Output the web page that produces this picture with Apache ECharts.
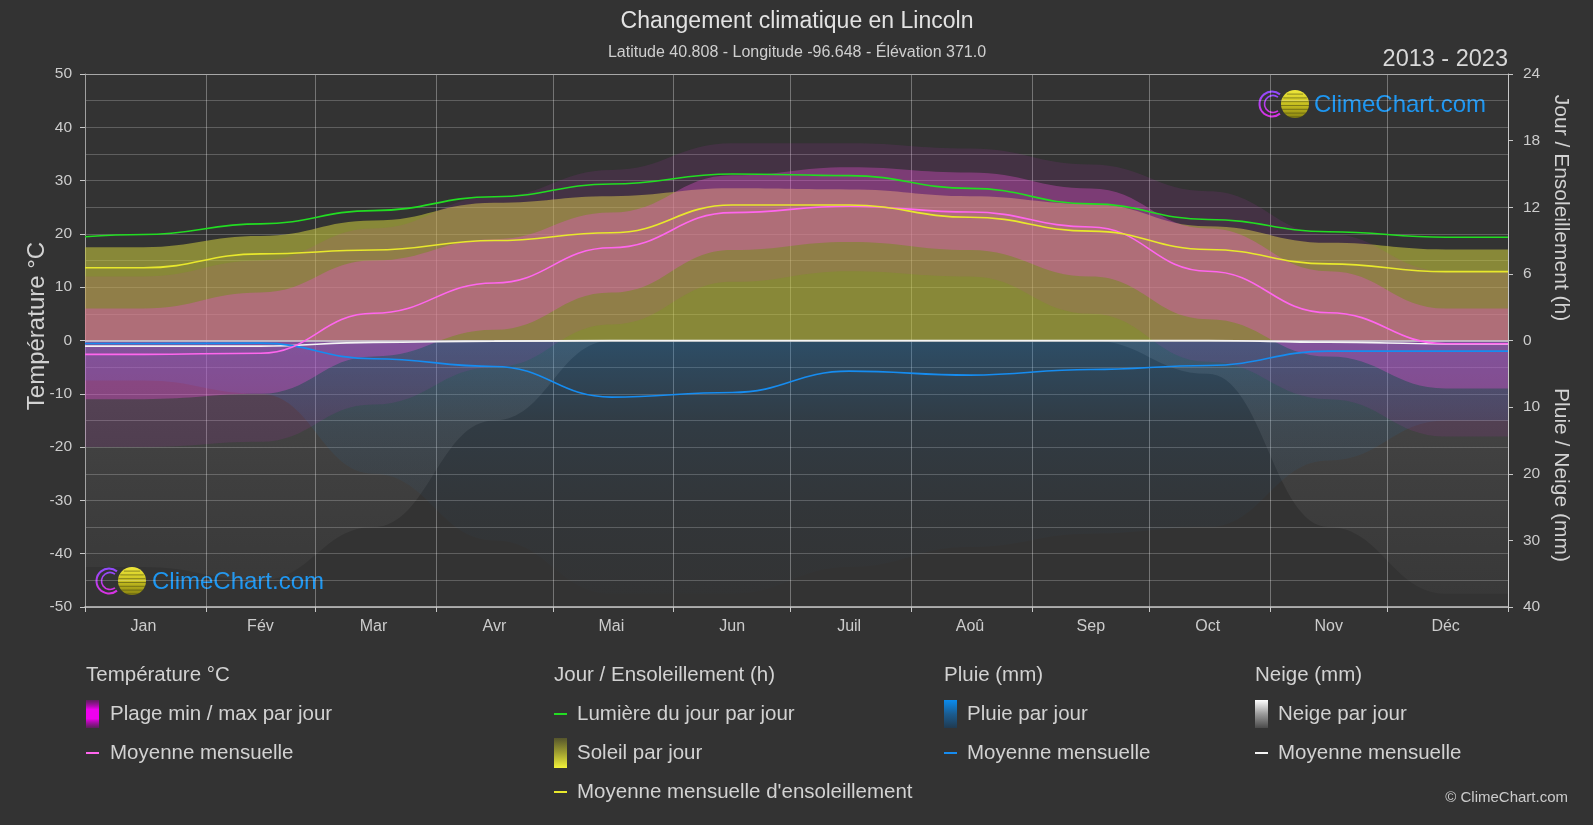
<!DOCTYPE html>
<html><head><meta charset="utf-8">
<script src="https://cdn.jsdelivr.net/npm/echarts/dist/echarts.min.js"></script>
<style>html,body{margin:0;padding:0;background:#333333;}#c{width:1593px;height:825px;}</style>
</head><body><div id="c"></div>
<script>
// ---- data ----
const months = ['Jan','Fév','Mar','Avr','Mai','Jun','Juil','Aoû','Sep','Oct','Nov','Déc'];
const monthDays = [31,28,31,30,31,30,31,31,30,31,30,31];
const tempMean = [-2.6, -2.4, 5.1, 10.8, 17.4, 24.0, 25.2, 24.1, 21.3, 13.0, 5.2, -0.6];
const tempMaxInner = [6, 9, 15, 19, 24, 31, 32.5, 31.5, 28.5, 21, 13, 6];
const tempMinInner = [-11, -10, -3, 2, 9, 17, 18.5, 17, 12, 4, -3, -9];
const tempMaxOuter = [12, 15, 21, 27, 32, 37, 37, 36, 33, 28, 20, 13];
const tempMinOuter = [-20, -19, -12, -5, 3, 11, 13, 12, 5, -4, -11, -18];
const daylight = [9.55, 10.5, 11.7, 12.95, 14.1, 15.0, 14.85, 13.7, 12.3, 10.9, 9.8, 9.3];
const daylightEdges = [9.35, 9.3];
const sunMean = [6.55, 7.8, 8.15, 9.0, 9.7, 12.2, 12.2, 11.1, 9.85, 8.2, 6.9, 6.2];
const sunTop = [8.4, 9.4, 10.8, 12.4, 13.0, 13.7, 13.6, 13.0, 12.3, 10.3, 8.8, 8.2];
const rainMean = [0.45, 0.4, 2.75, 3.9, 8.5, 7.8, 4.6, 5.2, 4.35, 3.75, 1.6, 1.6];
const rainTop = [6, 8, 20, 30, 38, 38, 34, 31, 29, 28, 18, 12];
const snowMean = [0.85, 0.85, 0.28, 0.1, 0, 0, 0, 0, 0, 0, 0.25, 0.5];
const snowTop = [34, 36, 28, 12, 0, 0, 0, 0, 0, 5, 28, 38];
const tempTicks = {min: -50, max: 50, interval: 10};
const rightTicks = {min: -40, max: 40, interval: 10};

// ---- axis helpers ----
const monthStarts = [];
let acc = 0;
monthDays.forEach(d => { monthStarts.push(acc); acc += d; });
monthStarts.push(acc);
const totalDays = acc;
const mids = monthDays.map((d, i) => monthStarts[i] + Math.floor(d / 2));
const startSet = new Set(monthStarts);
const midMap = new Map(mids.map((m, i) => [m, months[i]]));
const dayCats = [];
for (let i = 0; i <= totalDays; i++) dayCats.push(String(i));

const sunToAxis = h => h * 40 / 24;
const mmToAxis = mm => -mm;

function pts(arr, conv, edges) {
  const c = conv || (v => v);
  const first = edges ? edges[0] : arr[0];
  const last = edges ? edges[1] : arr[arr.length - 1];
  const out = [[0, c(first)]];
  arr.forEach((v, i) => out.push([mids[i], c(v)]));
  out.push([totalDays, c(last)]);
  return out;
}
function diff(a, b) { return a.map((v, i) => v - b[i]); }

const FONT = "'Liberation Sans', Arial, Helvetica, sans-serif";
const TXT = '#d2d2d2';

function lineSeries(data, yAxisIndex, color, z) {
  return {type: 'line', data, yAxisIndex, smooth: 0.45, smoothMonotone: 'x', symbol: 'none',
    lineStyle: {color, width: 1.6}, z: z || 5, silent: true};
}
function areaSeries(data, yAxisIndex, color, stack, z) {
  const s = {type: 'line', data, yAxisIndex, smooth: 0.45, smoothMonotone: 'x', symbol: 'none',
    lineStyle: {opacity: 0, width: 0}, areaStyle: {color, opacity: 1}, z: z || 2, silent: true};
  if (stack) { s.stack = stack; s.stackStrategy = 'all'; }
  return s;
}
function baseSeries(data, stack) {
  return {type: 'line', data, yAxisIndex: 0, smooth: 0.45, smoothMonotone: 'x', symbol: 'none',
    lineStyle: {opacity: 0, width: 0}, stack, stackStrategy: 'all', z: 2, silent: true};
}
function vgrad(stops) {
  return {type: 'linear', x: 0, y: 0, x2: 0, y2: 1, colorStops: stops.map((c, i) => ({offset: i / (stops.length - 1), color: c}))};
}

const series = [
  areaSeries(pts(snowTop, mmToAxis), 1, vgrad(['rgba(190,190,190,0.16)', 'rgba(190,190,190,0.09)', 'rgba(190,190,190,0.04)']), null, 1),
  areaSeries(pts(rainTop, mmToAxis), 1, vgrad(['rgba(35,125,195,0.36)', 'rgba(35,115,180,0.13)', 'rgba(35,105,165,0.05)', 'rgba(35,100,160,0.015)']), null, 1),
  areaSeries(pts(sunTop, sunToAxis), 1, 'rgba(200,200,60,0.57)', null, 2),
  baseSeries(pts(tempMinOuter), 'outer'),
  areaSeries(pts(diff(tempMaxOuter, tempMinOuter)), 0, 'rgba(210,50,210,0.11)', 'outer', 3),
  baseSeries(pts(tempMinInner), 'inner'),
  areaSeries(pts(diff(tempMaxInner, tempMinInner)), 0, 'rgba(235,80,215,0.34)', 'inner', 3),
  Object.assign(lineSeries(pts(snowMean, mmToAxis), 1, '#f4f4f4', 6), {
    markLine: {silent: true, symbol: 'none', label: {show: false},
      lineStyle: {color: '#cfcfcf', width: 1.6, type: 'solid'}, data: [{yAxis: 0}]}
  }),
  lineSeries(pts(rainMean, mmToAxis), 1, '#168cf0', 7),
  lineSeries(pts(tempMean), 0, '#ff66ee', 8),
  lineSeries(pts(sunMean, sunToAxis), 1, '#e8e82c', 8),
  lineSeries(pts(daylight, sunToAxis, daylightEdges), 1, '#22dd22', 9)
];

// ---- legend & decorations (graphic) ----
const g = [];
function txt(x, y, text, size, color, align, extra) {
  g.push(Object.assign({type: 'text', x, y, silent: true,
    style: {text, fill: color || TXT, font: (size || 19) + 'px ' + FONT, textAlign: align || 'left', textVerticalAlign: 'middle'}}, extra || {}));
}
function rect(x, y, w, h, fill) { g.push({type: 'rect', silent: true, shape: {x, y, width: w, height: h}, style: {fill}}); }
function hline(x, y, w, color) { g.push({type: 'line', silent: true, shape: {x1: x, y1: y, x2: x + w, y2: y}, style: {stroke: color, lineWidth: 2}}); }

txt(797, 22, 'Changement climatique en Lincoln', 23, '#e2e2e2', 'center');
txt(797, 53, 'Latitude 40.808 - Longitude -96.648 - Élévation 371.0', 16, '#cfcfcf', 'center');
txt(1508, 60, '2013 - 2023', 23.5, '#d8d8d8', 'right');

txt(37, 326, 'Température °C', 24, TXT, 'center', {rotation: Math.PI / 2});
txt(1561, 208, 'Jour / Ensoleillement (h)', 21, TXT, 'center', {rotation: -Math.PI / 2});
txt(1561, 475, 'Pluie / Neige (mm)', 21, TXT, 'center', {rotation: -Math.PI / 2});

// legend columns
const L = 20.5;
txt(86, 675, 'Température °C', L);
rect(86, 700, 13, 28, vgrad(['rgba(110,20,110,0.7)', '#ee00ee', '#ee00ee', 'rgba(110,20,110,0.7)']));
txt(110, 714, 'Plage min / max par jour', L);
hline(86, 753, 13, '#ff66ee');
txt(110, 753, 'Moyenne mensuelle', L);

txt(554, 675, 'Jour / Ensoleillement (h)', L);
hline(554, 714, 13, '#22dd22');
txt(577, 714, 'Lumière du jour par jour', L);
rect(554, 738, 13, 30, vgrad(['#55552c', '#a0a030', '#f2f23a']));
txt(577, 753, 'Soleil par jour', L);
hline(554, 792, 13, '#e8e82c');
txt(577, 792, "Moyenne mensuelle d'ensoleillement", L);

txt(944, 675, 'Pluie (mm)', L);
rect(944, 700, 13, 28, vgrad(['#0a8cf0', '#1b5c90', '#203a50']));
txt(967, 714, 'Pluie par jour', L);
hline(944, 753, 13, '#168cf0');
txt(967, 753, 'Moyenne mensuelle', L);

txt(1255, 675, 'Neige (mm)', L);
rect(1255, 700, 13, 28, vgrad(['#ffffff', '#9a9a9a', '#4a4a4a']));
txt(1278, 714, 'Neige par jour', L);
hline(1255, 753, 13, '#f4f4f4');
txt(1278, 753, 'Moyenne mensuelle', L);

txt(1568, 798, '© ClimeChart.com', 15, '#cccccc', 'right');

// logos
function logo(cx, cy, tx) {
  g.push({type: 'arc', silent: true, shape: {cx: cx, cy: cy, r: 12.5, startAngle: Math.PI * 0.28, endAngle: Math.PI * 1.72, clockwise: true},
    style: {stroke: vgrad(['#8a4cff', '#e030e0']), lineWidth: 2, fill: null}});
  g.push({type: 'arc', silent: true, shape: {cx: cx + 1, cy: cy, r: 8.5, startAngle: Math.PI * 0.3, endAngle: Math.PI * 1.7, clockwise: true},
    style: {stroke: vgrad(['#8a4cff', '#e030e0']), lineWidth: 1.6, fill: null}});
  const bx = cx + 23, r = 14;
  g.push({type: 'circle', silent: true, shape: {cx: bx, cy: cy, r}, style: {fill: vgrad(['#efe83a', '#c8c020', '#8a8410'])}});
  for (let k = -3; k <= 3; k++) {
    const dy = k * 3.8;
    const hw = Math.sqrt(Math.max(0, r * r - dy * dy));
    g.push({type: 'line', silent: true, shape: {x1: bx - hw, y1: cy + dy + 1.5, x2: bx + hw, y2: cy + dy + 1.5}, style: {stroke: 'rgba(70,70,20,0.55)', lineWidth: 1}});
  }
  txt(tx, cy + 1, 'ClimeChart.com', 24, '#1e96f0', 'left');
}
logo(1272, 104, 1314);
logo(109, 581, 152);

const chart = echarts.init(document.getElementById('c'), null, {renderer: 'canvas'});
chart.setOption({
  backgroundColor: '#333333',
  animation: false,
  textStyle: {fontFamily: FONT},
  grid: {left: 85, right: 85, top: 74, bottom: 218, containLabel: false, outerBoundsMode: 'none'},
  xAxis: [{
    type: 'category', data: dayCats, boundaryGap: false, position: 'bottom',
    axisLine: {show: true, onZero: false, lineStyle: {color: '#c8c8c8', width: 1.5}},
    axisTick: {show: true, interval: (i) => startSet.has(i), length: 5, lineStyle: {color: '#c8c8c8'}},
    axisLabel: {show: true, interval: (i) => midMap.has(i), formatter: (v) => midMap.get(parseInt(v, 10)) || '',
      color: '#cccccc', fontSize: 16, margin: 12, fontFamily: FONT, hideOverlap: false},
    splitLine: {show: true, interval: (i) => startSet.has(i), lineStyle: {color: 'rgba(255,255,255,0.32)', width: 1}}
  }, {
    type: 'category', data: dayCats, boundaryGap: false, position: 'top',
    axisLine: {show: true, onZero: false, lineStyle: {color: '#a8a8a8', width: 1.2}},
    axisTick: {show: false}, axisLabel: {show: false}, splitLine: {show: false}
  }],
  yAxis: [{
    type: 'value', position: 'left', min: tempTicks.min, max: tempTicks.max, interval: tempTicks.interval,
    axisLine: {show: true, lineStyle: {color: '#a0a0a0'}},
    axisTick: {show: true, length: 5, lineStyle: {color: '#c8c8c8'}},
    axisLabel: {color: '#cccccc', fontSize: 15.5, margin: 13, fontFamily: FONT},
    splitLine: {show: true, lineStyle: {color: 'rgba(255,255,255,0.22)', width: 1}},
    minorTick: {show: false, splitNumber: 2},
    minorSplitLine: {show: true, lineStyle: {color: 'rgba(255,255,255,0.22)', width: 1}}
  }, {
    type: 'value', position: 'right', min: rightTicks.min, max: rightTicks.max, interval: rightTicks.interval,
    axisLine: {show: true, lineStyle: {color: '#c8c8c8'}},
    axisTick: {show: true, length: 5, lineStyle: {color: '#c8c8c8'}},
    axisLabel: {color: '#cccccc', fontSize: 15.5, margin: 15, fontFamily: FONT,
      formatter: (v) => v > 0 ? String(Math.round(v * 24 / 40)) : String(Math.round(-v))},
    splitLine: {show: false}
  }],
  series,
  graphic: {elements: g}
});
</script>
</body></html>
